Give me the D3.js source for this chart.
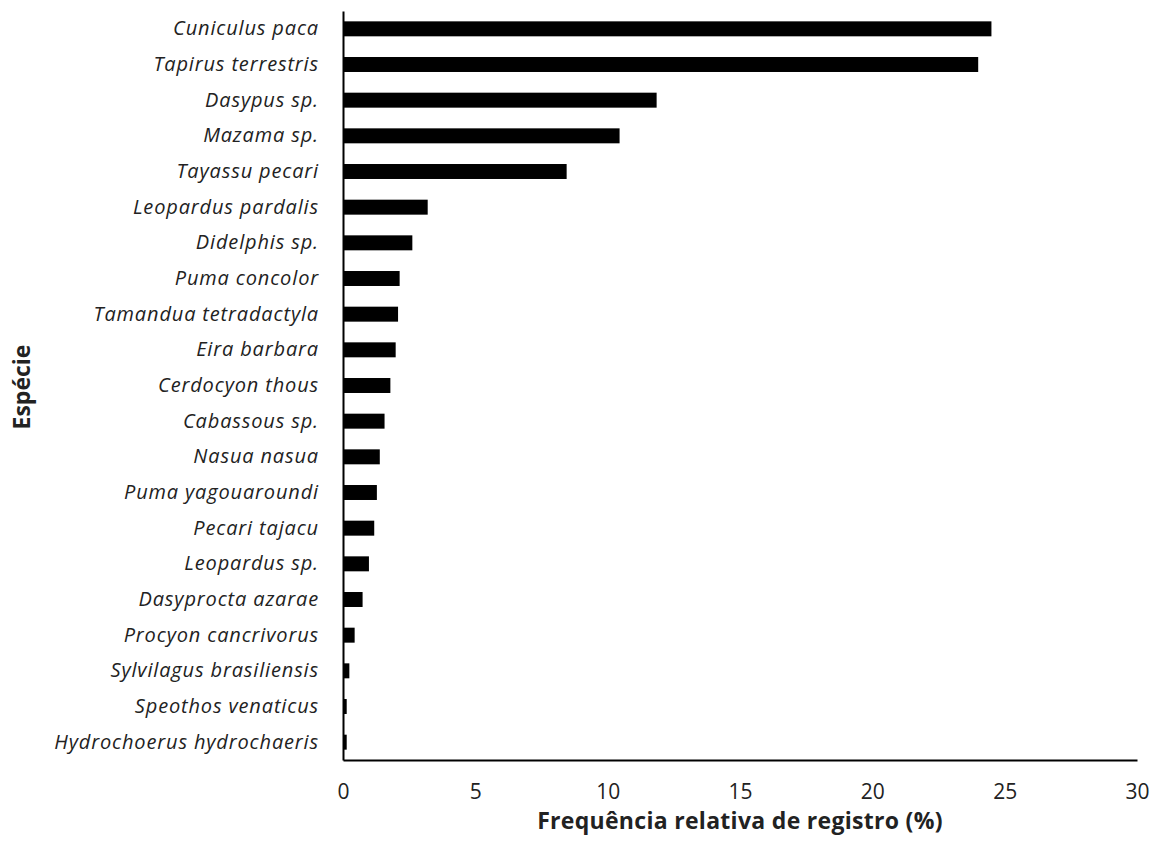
<!DOCTYPE html>
<html>
<head>
<meta charset="utf-8">
<script src="https://cdn.jsdelivr.net/npm/d3@7"></script>
<style>
  body { margin: 0; background: #fff; }
  svg { display: block; font-family: "Open Sans", Lato, sans-serif; }
</style>
</head>
<body>
<svg width="1162" height="845"></svg>
<script>
var species = [
  "Cuniculus paca", "Tapirus terrestris", "Dasypus sp.", "Mazama sp.",
  "Tayassu pecari", "Leopardus pardalis", "Didelphis sp.", "Puma concolor",
  "Tamandua tetradactyla", "Eira barbara", "Cerdocyon thous", "Cabassous sp.",
  "Nasua nasua", "Puma yagouaroundi", "Pecari tajacu", "Leopardus sp.",
  "Dasyprocta azarae", "Procyon cancrivorus", "Sylvilagus brasiliensis",
  "Speothos venaticus", "Hydrochoerus hydrochaeris"
];
var freq = [
  24.5, 24.0, 11.85, 10.45, 8.45, 3.2, 2.62, 2.14,
  2.08, 1.99, 1.79, 1.57, 1.39, 1.28, 1.18, 0.98,
  0.74, 0.44, 0.24, 0.14, 0.14
];
var xTicks = [0, 5, 10, 15, 20, 25, 30];

var svg = d3.select("svg"),
    margin = {left: 343, right: 25, top: 11, bottom: 85},
    width = +svg.attr("width"),
    height = +svg.attr("height");

var x = d3.scaleLinear()
    .domain([0, 30])
    .range([margin.left, width - margin.right]);

var y = d3.scaleBand()
    .domain(species)
    .range([margin.top, height - margin.bottom])
    .paddingInner(0.58)
    .paddingOuter(0.29);

var data = species.map(function(s, i) { return {name: s, value: freq[i]}; });

svg.append("g")
  .selectAll("rect")
  .data(data)
  .enter().append("rect")
    .attr("x", x(0))
    .attr("y", function(d) { return y(d.name); })
    .attr("width", function(d) { return x(d.value) - x(0); })
    .attr("height", y.bandwidth())
    .attr("fill", "#000");

// x axis
var xAxis = svg.append("g")
    .attr("transform", "translate(0," + (height - margin.bottom) + ")")
    .call(d3.axisBottom(x).tickValues(xTicks).tickSize(0).tickPadding(24));
xAxis.select(".domain").attr("stroke", "#000").attr("stroke-width", 2);
xAxis.selectAll("text")
    .attr("font-family", "'Open Sans', sans-serif")
    .attr("font-size", 21)
    .attr("fill", "#222");

// y axis
var yAxis = svg.append("g")
    .attr("transform", "translate(" + margin.left + ",0)")
    .call(d3.axisLeft(y).tickSize(0).tickPadding(24));
yAxis.select(".domain").attr("stroke", "#000").attr("stroke-width", 2);
yAxis.selectAll("text")
    .attr("font-family", "'Open Sans', sans-serif")
    .attr("font-style", "italic")
    .attr("font-size", 20)
    .attr("letter-spacing", 0.85)
    .attr("fill", "#222");

// axis titles
svg.append("text")
    .attr("x", (x(0) + x(30)) / 2)
    .attr("y", 829)
    .attr("text-anchor", "middle")
    .attr("font-weight", "bold")
    .attr("font-size", 23)
    .attr("letter-spacing", 0.3)
    .attr("fill", "#222")
    .text("Frequência relativa de registro (%)");

svg.append("text")
    .attr("transform", "translate(30," + 387 + ") rotate(-90)")
    .attr("text-anchor", "middle")
    .attr("font-weight", "bold")
    .attr("font-size", 23)
    .attr("fill", "#222")
    .text("Espécie");
</script>
</body>
</html>
